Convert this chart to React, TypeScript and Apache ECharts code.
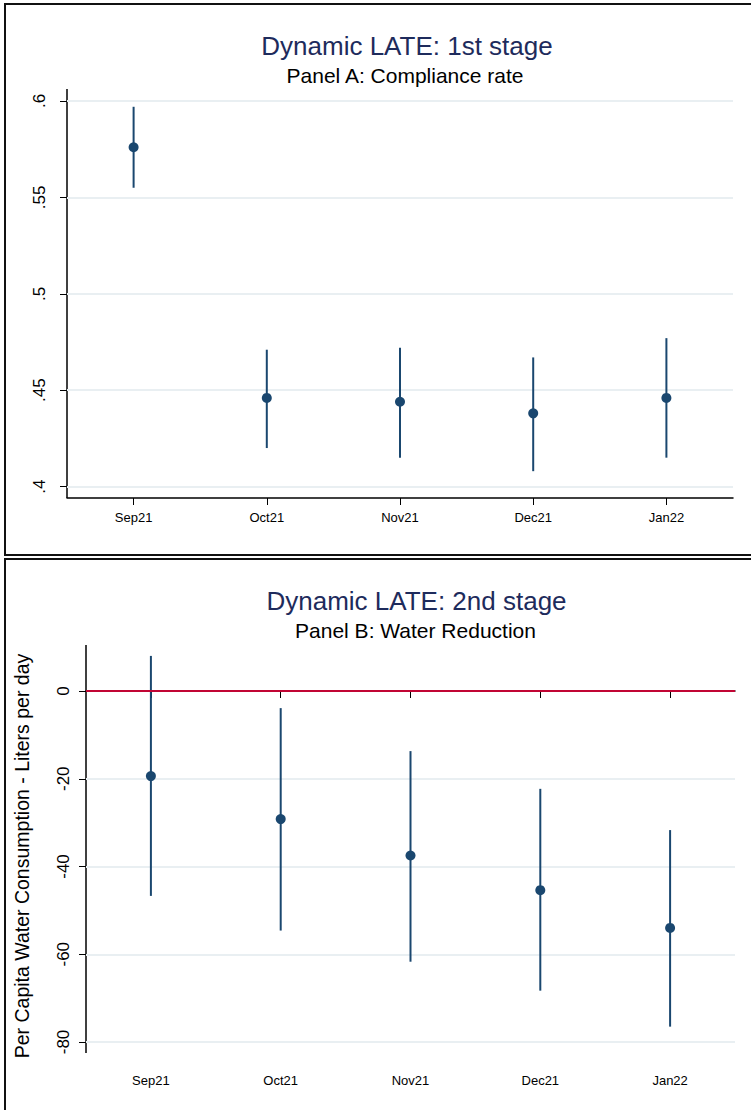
import React, { useEffect, useRef } from "react";
import * as echarts from "echarts";

const months = ["Sep21", "Oct21", "Nov21", "Dec21", "Jan22"];

// Panel A: first stage (compliance rate)
const stage1Est = [0.576, 0.446, 0.444, 0.438, 0.446];
const stage1Lo = [0.555, 0.42, 0.415, 0.408, 0.415];
const stage1Hi = [0.597, 0.471, 0.472, 0.467, 0.477];

// Panel B: second stage (water reduction)
const stage2Est = [-19.4, -29.2, -37.5, -45.4, -54.0];
const stage2Lo = [-46.7, -54.6, -61.7, -68.3, -76.5];
const stage2Hi = [8.0, -3.9, -13.7, -22.3, -31.7];

const titles = ["Dynamic LATE: 1st stage", "Dynamic LATE: 2nd stage"];
const subtitles = ["Panel A: Compliance rate", "Panel B: Water Reduction"];
const yTitleB = "Per Capita Water Consumption - Liters per day";

const NAVY = "#1a476f";
const TITLE = "#1e2b5c";
const RED = "#c10534";
const GRID = "#e9eff2";
const FONT = "'Liberation Sans', Arial, Helvetica, sans-serif";

// layout
const A = { left: 67, right: 733, top: 101, bottom: 486.6, frameTop: 89, frameBottom: 498 };
const B = { left: 86, right: 735, top: 691, bottom: 1042, frameTop: 645, frameBottom: 1053 };

function errorBar(gridIdx: number, lo: number[], hi: number[]) {
  return {
    type: "custom",
    xAxisIndex: gridIdx,
    yAxisIndex: gridIdx,
    clip: false,
    encode: { x: 0, y: [1, 2] },
    data: months.map((_, i) => [i, lo[i], hi[i]]),
    renderItem: (params: any, api: any) => {
      const p1 = api.coord([api.value(0), api.value(1)]);
      const p2 = api.coord([api.value(0), api.value(2)]);
      return {
        type: "line",
        shape: { x1: p1[0], y1: p1[1], x2: p2[0], y2: p2[1] },
        style: { stroke: NAVY, lineWidth: 2 },
      };
    },
  };
}

export default function App() {
  const ref = useRef<HTMLDivElement>(null);
  useEffect(() => {
    document.body.style.margin = "0";
    const chart = echarts.init(ref.current!, undefined, { renderer: "svg" });
    const xAxisCommon = (offset: number, margin: number) => ({
      type: "category",
      data: months,
      offset,
      axisLine: { show: true, lineStyle: { color: "#000", width: 1.5 } },
      axisTick: { show: true, alignWithLabel: true, length: 7, lineStyle: { color: "#000", width: 1 } },
      axisLabel: { color: "#000", fontSize: 13, fontFamily: FONT, margin },
      splitLine: { show: false },
    });
    const option: any = {
      animation: false,
      backgroundColor: "#fff",
      title: [
        {
          text: titles[0], left: (A.left + A.right) / 2 + 2, top: 28, textAlign: "center",
          textStyle: { color: TITLE, fontSize: 26, fontWeight: "normal", fontFamily: FONT },
        },
        {
          text: subtitles[0], left: (A.left + A.right) / 2, top: 60, textAlign: "center",
          textStyle: { color: "#000", fontSize: 21, fontWeight: "normal", fontFamily: FONT },
        },
        {
          text: titles[1], left: (B.left + B.right) / 2 + 1, top: 583, textAlign: "center",
          textStyle: { color: TITLE, fontSize: 26, fontWeight: "normal", fontFamily: FONT },
        },
        {
          text: subtitles[1], left: (B.left + B.right) / 2, top: 615, textAlign: "center",
          textStyle: { color: "#000", fontSize: 21, fontWeight: "normal", fontFamily: FONT },
        },
      ],
      grid: [
        { left: A.left, width: A.right - A.left, top: A.top, height: A.bottom - A.top },
        { left: B.left, width: B.right - B.left, top: B.top, height: B.bottom - B.top },
      ],
      xAxis: [
        { ...xAxisCommon(A.frameBottom - A.bottom, 13), gridIndex: 0 },
        { ...xAxisCommon(B.frameBottom - B.bottom, 21), gridIndex: 1 },
      ],
      yAxis: [
        {
          type: "value", gridIndex: 0, min: 0.4, max: 0.6, interval: 0.05,
          axisLine: { show: false },
          axisTick: { show: true, length: 7, lineStyle: { color: "#000", width: 1 } },
          axisLabel: {
            rotate: 90, color: "#000", fontSize: 17, fontFamily: FONT, margin: 19,
            formatter: (v: number) => String(+v.toFixed(2)).replace(/^0\./, "."),
          },
          splitLine: { show: true, lineStyle: { color: GRID, width: 2 } },
        },
        {
          type: "value", gridIndex: 1, min: -80, max: 0, interval: 20,
          axisLine: { show: false },
          axisTick: { show: true, length: 7, lineStyle: { color: "#000", width: 1 } },
          axisLabel: {
            rotate: 90, color: "#000", fontSize: 17, fontFamily: FONT, margin: 14,
            formatter: (v: number) => String(Math.round(v)),
          },
          splitLine: { show: true, lineStyle: { color: GRID, width: 2 } },
        },
      ],
      graphic: [
        { type: "rect", shape: { x: 5, y: 4, width: 800, height: 551 }, style: { fill: "none", stroke: "#111", lineWidth: 2 } },
        { type: "rect", shape: { x: 5, y: 559, width: 800, height: 600 }, style: { fill: "none", stroke: "#111", lineWidth: 2 } },
        { type: "line", shape: { x1: A.left, y1: A.frameTop, x2: A.left, y2: A.frameBottom }, style: { stroke: "#000", lineWidth: 1.5 } },
        { type: "line", shape: { x1: B.left, y1: B.frameTop, x2: B.left, y2: B.frameBottom }, style: { stroke: "#000", lineWidth: 1.5 } },
        {
          type: "text", x: 22, y: 856, rotation: Math.PI / 2,
          style: { text: yTitleB, fontSize: 19.5, fontFamily: FONT, fill: "#000", align: "center", verticalAlign: "middle" },
        },
      ],
      series: [
        errorBar(0, stage1Lo, stage1Hi),
        {
          type: "scatter", xAxisIndex: 0, yAxisIndex: 0, symbolSize: 10, clip: false,
          itemStyle: { color: NAVY, opacity: 1 },
          data: stage1Est,
        },
        errorBar(1, stage2Lo, stage2Hi),
        {
          type: "scatter", xAxisIndex: 1, yAxisIndex: 1, symbolSize: 10, clip: false,
          itemStyle: { color: NAVY, opacity: 1 },
          data: stage2Est,
          markLine: {
            silent: true, symbol: "none", animation: false,
            label: { show: false },
            lineStyle: { color: RED, width: 2, type: "solid" },
            data: [{ yAxis: 0 }],
          },
        },
      ],
    };
    chart.setOption(option);
    return () => chart.dispose();
  }, []);
  return <div ref={ref} style={{ position: "absolute", left: 0, top: 0, width: 751, height: 1110 }} />;
}
